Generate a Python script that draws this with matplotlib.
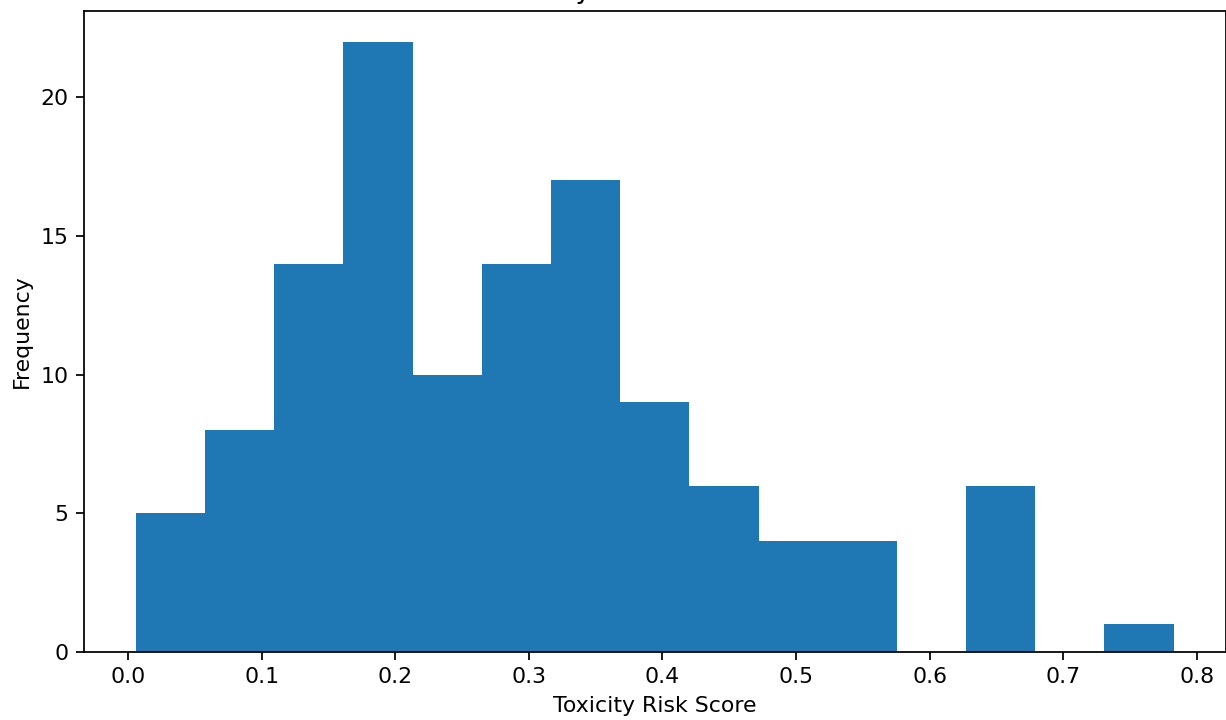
import numpy as np
import matplotlib
matplotlib.use("Agg")
import matplotlib.pyplot as plt

## Histogram data ##
bin_start = 0.0058
bin_end = 0.7826
n_bins = 15
counts = [5, 8, 14, 22, 10, 14, 17, 9, 6, 4, 4, 0, 6, 0, 1]

title = "Toxicity Risk Distribution"
x_label = "Toxicity Risk Score"
y_label = "Frequency"

edges = np.linspace(bin_start, bin_end, n_bins + 1)
centers = (edges[:-1] + edges[1:]) / 2

dpi = 158
fig = plt.figure(figsize=(1226 / dpi, 720 / dpi), dpi=dpi)
ax = fig.add_axes([0.0685, 0.0944, 0.9311, 0.8903])
ax.hist(centers, bins=edges, weights=counts, color="#1f77b4")
ax.set_title(title)
ax.set_xlabel(x_label)
ax.set_ylabel(y_label)

plt.savefig("out.png", dpi=dpi)
